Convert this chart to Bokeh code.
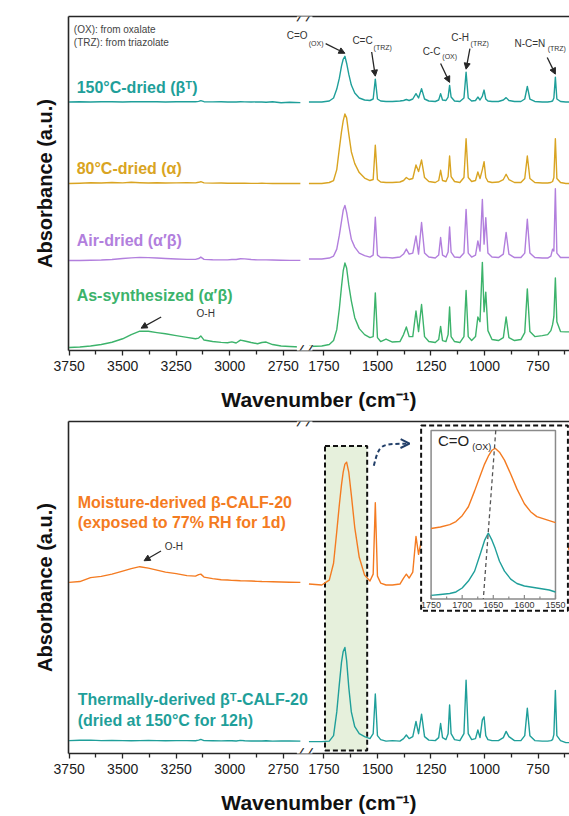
from bokeh.plotting import figure
from bokeh.layouts import column
from bokeh.models import (Range1d, LinearAxis, FixedTicker, Label, Arrow,
                          NormalHead, OpenHead)
from bokeh.core.properties import value
from bokeh.embed import file_html
from bokeh.resources import INLINE

FONT = "Liberation Sans"
INK = "#262626"
TEAL = "#1f9f9a"
GOLD = "#d9a422"
PURPLE = "#b27fdd"
GREEN = "#3cb36b"
ORANGE = "#f47b21"
NAVY = "#223f69"
BOX_FILL = "#e6f0dc"
INSET_GRAY = "#8a8a8a"

# ------------------------------------------------------------------ data
# wavenumber grids (cm-1) of the two axis segments
WN_HIGH = [3750, 3700, 3650, 3600, 3550, 3500, 3460, 3420, 3380, 3340,
           3300, 3250, 3200, 3160, 3145, 3135, 3120, 3080, 3040, 3010,
           2990, 2970, 2950, 2930, 2900, 2870, 2850, 2830, 2800, 2760,
           2720, 2670]
WN_LOW = [1820, 1760, 1725, 1705, 1690, 1678, 1668, 1660, 1652, 1644,
          1634, 1622, 1606, 1585, 1560, 1535, 1520, 1510, 1500, 1485,
          1460, 1430, 1395, 1378, 1365, 1352, 1335, 1320, 1308, 1294,
          1280, 1260, 1230, 1214, 1205, 1196, 1180, 1170, 1163, 1156,
          1140, 1115, 1096, 1086, 1076, 1060, 1042, 1031, 1021, 1010,
          1002, 994, 984, 965, 935, 912, 899, 886, 860, 830,
          812, 800, 788, 765, 730, 705, 690, 682, 676, 669,
          662, 645, 620, 600]

TICKS_HIGH = [3750, 3500, 3250, 3000, 2750]
TICKS_LOW = [1750, 1500, 1250, 1000, 750]
MINOR_HIGH = [3625, 3375, 3125, 2875]
MINOR_LOW = [1625, 1375, 1125, 875, 625]

# panel (a): absorbance above each trace's own baseline (a.u.)
DRY150_HIGH = [0, 0.2, 0, 0.3, 0.2, 0, 0.3, 0.2, 0.4, 0.2,
               0, 0.2, 0.3, 0.2, 0.6, 1.3, 0.3, 0.1, 0.2, 0,
               0.1, 0, 0.2, 0.1, 0, 0.1, 0, -0.3, 0.2, -0.8,
               -0.3, -0.6]
DRY150_LOW = [0, 0, 1, 4, 13, 24, 36, 43, 46, 39,
              28, 17, 9, 4, 2, 1.5, 3, 23, 3, 1,
              0.5, 0.5, 1, 1.5, 2.5, 1.5, 3, 8.4, 4, 13.4,
              3, 1, 0.5, 2, 8.4, 2, 1.5, 5, 16.7, 5,
              1, 0.5, 4, 30, 4, 1, 1.5, 5, 2, 6,
              12, 3, 1, 0.5, 0.5, 2, 4.4, 1.5, 0.5, 0.5,
              3, 15.7, 3, 0.5, 0, 0, 0.5, 1, 4, 25,
              3, 0.5, 0, 0]
DRY80_HIGH = [0, 0.3, 0.8, 0.5, 1.0, 0.6, 1.2, 0.8, 0.5, 0.8,
              0.5, 0.6, 0.8, 0.6, 1.2, 1.8, 0.6, 0.4, 0.5, 0.3,
              0.3, 0.2, 0.4, 0.3, 0.1, 0.1, 0.2, 0.1, 0, 0,
              0, 0]
DRY80_LOW = [0, 0, 1, 3, 14, 35, 52, 63, 70, 66,
             50, 32, 20, 11, 5.5, 3, 4, 38.6, 4, 1.5,
             1, 1, 1.5, 3, 6, 4, 5, 18.6, 12, 23.6,
             6, 2, 1, 3, 13.3, 3, 2, 7, 27.6, 7,
             2, 1, 6, 45, 6, 2, 3, 11.6, 5, 14,
             22, 6, 2, 1, 1.5, 4, 9.3, 4, 1, 1,
             5, 27.6, 5, 1, 0.5, 0.5, 1, 2, 6, 45,
             5, 1, 0, 0]
AIR_HIGH = [-1.5, -1.5, -1.2, -1.0, -0.5, 0.5, 1.2, 1.7, 1.4, 1.0,
            0.5, 0, -0.3, -0.3, 0.5, 2.0, -0.3, -0.7, -0.8, -0.8,
            -0.5, -0.5, 0.3, 0.2, -0.5, -0.8, -0.8, -0.8, -1.0, -1.2,
            -1.3, -1.3]
AIR_LOW = [0, 0, 1, 3, 10, 24, 38, 49, 54, 47,
           34, 20, 12, 6, 3.5, 2, 4, 42, 4, 1.5,
           1.7, 1, 2, 5, 10, 5, 6, 23.3, 5, 36.7,
           6, 2, 1, 4, 21.7, 4, 2, 7, 32.3, 7,
           2, 1.5, 6, 50, 6, 2, 4, 18.3, 8, 60,
           15, 41.7, 6, 2, 1.5, 5, 26.7, 5, 1.5, 1.5,
           6, 40, 6, 1.5, 1, 1, 3, 10, 8, 70.7,
           6, 1.5, 1.5, 1.5]
AS_SYN_HIGH = [-1, -0.5, 0.5, 2, 4.3, 7.8, 12, 15.5, 15.3, 14,
               12.8, 11, 9.2, 7.8, 8.5, 10.7, 6.5, 5, 4.2, 3.8,
               4.7, 3.5, 6.5, 5.5, 4, 2.8, 4, 4.5, 2, 0.5,
               0, -0.5]
AS_SYN_LOW = [0, 0.5, 2, 6, 17, 38, 60, 76, 84, 79,
              62, 46, 29, 18, 12, 9, 10, 54, 9, 5,
              7.5, 4.5, 5, 12, 19.7, 10, 10, 35.7, 15, 42.3,
              10, 5, 4, 7, 20.3, 6, 5, 12, 39.7, 10,
              5, 4, 10, 56.3, 10, 6, 10, 29.7, 25, 84.7,
              35, 54.7, 16, 7, 6, 9, 29.7, 9, 6, 7,
              14, 58, 15, 10, 11, 12, 16, 22, 30, 69,
              25, 15, 14.7, 14.7]
OFFSET_A = {"dry150": 250, "dry80": 168, "air": 92, "as_syn": 4}

# panel (b)
MOIST_HIGH = [1.7, 2.5, 6.5, 7.7, 10, 13, 15.5, 17.5, 16, 14,
              12, 10.5, 8.5, 8, 9.5, 10, 7, 5.5, 4.3, 4,
              3.7, 3.5, 3.3, 3.2, 3, 2.7, 2.5, 2.4, 2.3, 2,
              1.8, 1.7]
MOIST_LOW = [0, -1, 4, 21, 53, 80, 100, 113, 121, 123,
             113, 90, 57, 27, 9, 3, 10, 82, 8, 1,
             -1, -1, 0, 6, 10, 6, 12, 48, 30, 45,
             10, 4, 3, 6, 25, 6, 5, 12, 40, 12,
             5, 4, 12, 70, 12, 6, 6, 20, 10, 35,
             40, 12, 5, 3, 3, 8, 18, 6, 3, 3,
             10, 40, 10, 5, 5, 6, 8, 12, 20, 60,
             30, 28, 30, 40]
THERM_HIGH = [1, 1.3, 1.5, 1, 1.2, 1, 0.8, 1, 1.2, 1,
              0.8, 1, 1, 0.9, 1.5, 2.2, 1, 0.8, 0.7, 0.8,
              0.9, 0.6, 1.2, 0.9, 0.6, 0.7, 0.6, 0.8, 0.5, 0.7,
              0.6, 0.5]
THERM_LOW = [0, 0, 0.5, 6, 30, 58, 80, 91, 95, 82,
             55, 30, 15, 8, 5, 3, 8, 48, 6, 2,
             0.5, 1, 0.5, 3, 6.7, 3, 5, 20.3, 8, 27.7,
             5, 1.5, 1, 4, 18.3, 4, 2, 8, 37, 8,
             2, 1, 8, 62, 8, 2, 3, 11.7, 4, 22,
             25, 6, 2, 1, 1, 4, 10.3, 5, 1, 1,
             6, 33.7, 6, 1, 0.5, 0.5, 1, 2, 7, 51.7,
             6, 1, -1, -1]
OFFSET_B = {"moist": 171, "therm": 12}

# inset (C=O band)
WN_INSET = [1750, 1735, 1720, 1710, 1700, 1690, 1680, 1670, 1664, 1658,
            1652, 1647, 1640, 1632, 1622, 1612, 1600, 1590, 1580, 1570,
            1560, 1550]
INSET_MOIST = [71, 72.5, 75, 78, 84, 93, 109, 126, 136, 144,
               150, 152, 148, 140, 126, 111, 96, 88, 83, 81,
               79, 77]
INSET_THERM = [3.5, 4.5, 5.5, 7, 11, 18, 28, 47, 59, 66.5,
               59, 51, 38, 28, 20, 15.5, 13, 12, 11, 10,
               9, 7]
INSET_TICKS = [1750, 1700, 1650, 1600, 1550]
INSET_MINOR = [1725, 1675, 1625, 1575]
INSET_SHIFT_LINE_WN = [1646, 1666]

for arr in (DRY150_HIGH, DRY80_HIGH, AIR_HIGH, AS_SYN_HIGH, MOIST_HIGH, THERM_HIGH):
    assert len(arr) == len(WN_HIGH), len(arr)
for arr in (DRY150_LOW, DRY80_LOW, AIR_LOW, AS_SYN_LOW, MOIST_LOW, THERM_LOW):
    assert len(arr) == len(WN_LOW), len(arr)
assert len(INSET_MOIST) == len(WN_INSET) == len(INSET_THERM)

# ------------------------------------------------------------------ axis break
GAP_SHIFT = 810          # high-wavenumber segment is shifted next to the low one
X_START, X_END = 2943, 603
BREAK_MID = 1840
BREAK_MARKS = (1861, 1819)
WIDTH = 569


def axis_pos(w):
    return w - GAP_SHIFT if w >= 2000 else w


def at(grid, vals, w):
    return vals[grid.index(w)]


def lab(p, x, y, text, size, color=INK, bold=False, align="left", **kw):
    p.add_layout(Label(x=x, y=y, text=text, text_font=FONT, text_font_size=size,
                       text_font_style="bold" if bold else "normal",
                       text_color=color, text_align=align,
                       text_baseline="middle", **kw))


def make_panel(height, top, bottom, y_end):
    p = figure(width=WIDTH, height=height, x_range=Range1d(X_START, X_END),
               y_range=Range1d(0, y_end), x_axis_type=None, y_axis_type=None,
               output_backend="svg", toolbar_location=None,
               min_border_left=68, min_border_right=0, min_border_top=top,
               min_border_bottom=bottom, background_fill_color="white",
               border_fill_color="white", outline_line_color=None)
    ticks = [axis_pos(t) for t in TICKS_HIGH + TICKS_LOW]
    minor = [axis_pos(t) for t in MINOR_HIGH + MINOR_LOW]
    xa = LinearAxis(ticker=FixedTicker(ticks=ticks, minor_ticks=minor),
                    axis_label="Wavenumber (cm\u207b\u00b9)")
    xa.major_label_overrides = {axis_pos(t): str(t) for t in TICKS_HIGH + TICKS_LOW}
    xa.axis_line_color = INK
    xa.axis_line_width = 1.6
    xa.major_tick_line_color = INK
    xa.minor_tick_line_color = INK
    xa.major_tick_line_width = 1.3
    xa.minor_tick_line_width = 1.3
    xa.major_tick_in = 0
    xa.major_tick_out = 5
    xa.minor_tick_in = 0
    xa.minor_tick_out = 4
    xa.major_label_standoff = 5
    xa.major_label_text_font = FONT
    xa.major_label_text_font_size = "14px"
    xa.major_label_text_color = "#1a1a1a"
    xa.axis_label_standoff = 14
    xa.axis_label_text_font = FONT
    xa.axis_label_text_font_size = "21px"
    xa.axis_label_text_font_style = "bold"
    xa.axis_label_text_color = "#111111"
    p.add_layout(xa, "below")

    top_ax = LinearAxis(ticker=FixedTicker(ticks=[]), major_tick_out=0,
                        minor_tick_out=0, major_label_text_font_size="0px",
                        axis_line_color=INK, axis_line_width=1.6)
    p.add_layout(top_ax, "above")

    ya = LinearAxis(ticker=FixedTicker(ticks=[]), axis_label="Absorbance (a.u.)",
                    major_tick_out=0, minor_tick_out=0,
                    major_label_text_font_size="0px",
                    axis_line_color=INK, axis_line_width=1.6)
    ya.axis_label_standoff = 13
    ya.axis_label_text_font = FONT
    ya.axis_label_text_font_size = "20px"
    ya.axis_label_text_font_style = "bold"
    ya.axis_label_text_color = "#111111"
    p.add_layout(ya, "left")

    for yy in (0, y_end):
        p.add_layout(Label(x=BREAK_MID, y=yy, text="       ", text_font=FONT,
                           text_font_size="8px", text_align="center",
                           text_baseline="middle", background_fill_color="white"))
        for bx in BREAK_MARKS:
            p.add_layout(Label(x=bx, y=yy, text="/", text_font=FONT,
                               text_font_size="16px", text_align="center",
                               text_baseline="middle", text_color=INK, angle=-0.3))
    return p


def draw(p, high, low, off, color):
    p.line([axis_pos(w) for w in WN_HIGH], [off + v for v in high],
           line_color=color, line_width=1.4, line_join="round")
    p.line(WN_LOW, [off + v for v in low],
           line_color=color, line_width=1.4, line_join="round")


def arrow(p, xs, ys, xe, ye, size=6):
    p.add_layout(Arrow(end=NormalHead(size=size, fill_color=INK, line_color=INK,
                                      line_width=1),
                       x_start=xs, y_start=ys, x_end=xe, y_end=ye,
                       line_color=INK, line_width=1.3))


# ------------------------------------------------------------------ panel (a)
pa = make_panel(413, 16, 61, 336)
draw(pa, DRY150_HIGH, DRY150_LOW, OFFSET_A["dry150"], TEAL)
draw(pa, DRY80_HIGH, DRY80_LOW, OFFSET_A["dry80"], GOLD)
draw(pa, AIR_HIGH, AIR_LOW, OFFSET_A["air"], PURPLE)
draw(pa, AS_SYN_HIGH, AS_SYN_LOW, OFFSET_A["as_syn"], GREEN)

lab(pa, 3142, 321, "(a)", "27px", color="#111111", bold=True, align="center")
lab(pa, 2918, 323, "(OX):  from oxalate", "10px", color="#444444")
lab(pa, 2918, 310.3, "(TRZ): from triazolate", "10px", color="#444444")
lab(pa, 2905, 264.5, "150\u00b0C-dried (\u03b2\u1d40)", "16px", color=TEAL, bold=True)
lab(pa, 2905, 183.5, "80\u00b0C-dried (\u03b1)", "16px", color=GOLD, bold=True)
lab(pa, 2905, 110.3, "Air-dried (\u03b1\u2032\u03b2)", "16px", color=PURPLE, bold=True)
lab(pa, 2905, 55.3, "As-synthesized (\u03b1\u2032\u03b2)", "16px", color=GREEN, bold=True)

# peak assignments: text, subscript, text pos, subscript pos, arrow start, peak
PEAK_NOTES = [
    ("C=O", "(OX)", (1924, 317), (1821, 308.7), (1742, 308.7), 1652),
    ("C=C", "(TRZ)", (1617, 312), (1518, 305.3), (1527, 300.3), 1510),
    ("C-C", "(OX)", (1289, 300.3), (1197, 295.3), (1205, 288.7), 1163),
    ("C-H", "(TRZ)", (1155, 315.3), (1065, 308.7), (1068, 303.7), 1086),
    ("N-C=N", "(TRZ)", (860, 308.7), (705, 303.7), (707, 294.7), 669),
]
for txt, sub, tpos, spos, astart, peak in PEAK_NOTES:
    lab(pa, tpos[0], tpos[1], txt, "10px", color="#333333")
    lab(pa, spos[0], spos[1], sub, "7px", color="#333333")
    top = OFFSET_A["dry150"] + at(WN_LOW, DRY150_LOW, peak) + 3
    arrow(pa, astart[0], astart[1], peak, top)

lab(pa, axis_pos(3155), 37, "O-H", "10px", color="#333333")
arrow(pa, axis_pos(3320), 33.7, axis_pos(3414),
      OFFSET_A["as_syn"] + at(WN_HIGH, AS_SYN_HIGH, 3420) + 3)

# ------------------------------------------------------------------ panel (b)
pb = make_panel(403, 8, 61, 335)

# highlighted C=O region
BOX_WN = (1745, 1548)
pb.quad(left=BOX_WN[0], right=BOX_WN[1], bottom=3, top=310.3,
        fill_color=BOX_FILL, line_color="#111111", line_width=2, line_dash="5 3")

draw(pb, MOIST_HIGH, MOIST_LOW, OFFSET_B["moist"], ORANGE)
draw(pb, THERM_HIGH, THERM_LOW, OFFSET_B["therm"], TEAL)

lab(pb, 3142, 319, "(b)", "27px", color="#111111", bold=True, align="center")
lab(pb, 2900, 253, "Moisture-derived \u03b2-CALF-20", "16px", color=ORANGE, bold=True)
lab(pb, 2900, 233, "(exposed to 77% RH for 1d)", "16px", color=ORANGE, bold=True)
lab(pb, 2900, 54.3, "Thermally-derived \u03b2\u1d40-CALF-20", "16px", color=TEAL, bold=True)
lab(pb, 2900, 33, "(dried at 150\u00b0C for 12h)", "16px", color=TEAL, bold=True)
lab(pb, axis_pos(3304), 209.3, "O-H", "10px", color="#333333")
arrow(pb, axis_pos(3321), 204.3, axis_pos(3400),
      OFFSET_B["moist"] + at(WN_HIGH, MOIST_HIGH, 3420) + 6)

# dashed curved pointer to the inset
pb.bezier(x0=1517, y0=290.4, x1=1355, y1=312.6, cx0=1490, cy0=312.5,
          cx1=1490, cy1=312.5, line_color=NAVY, line_width=2, line_dash="4 3")
pb.add_layout(Arrow(end=OpenHead(size=9, line_color=NAVY, line_width=2),
                    x_start=1372, y_start=312.7, x_end=1350, y_end=312.6,
                    line_color=NAVY, line_width=2, line_alpha=0))

# inset placed through extra ranges
INSET_AT_X = (1249.5, 668.5)      # main-axis positions of inset 1750 / 1550
INSET_AT_Y = (156.0, 326.0)       # main y of inset 0 / 170
kx = (INSET_AT_X[0] - INSET_AT_X[1]) / (1750 - 1550)
ky = (INSET_AT_Y[1] - INSET_AT_Y[0]) / 170.0
pb.extra_x_ranges = {"ix": Range1d(1750 + (X_START - INSET_AT_X[0]) / kx,
                                   1750 - (INSET_AT_X[0] - X_END) / kx)}
pb.extra_y_ranges = {"iy": Range1d((0 - INSET_AT_Y[0]) / ky,
                                   (335 - INSET_AT_Y[0]) / ky)}
IR = dict(x_range_name="ix", y_range_name="iy")

pb.quad(left=1766, right=1530, bottom=-12, top=175, fill_color="white",
        line_color="#111111", line_width=2, line_dash="5 3", **IR)
pb.quad(left=1750, right=1550, bottom=0, top=170, fill_color=None,
        line_color=INSET_GRAY, line_width=1.5, **IR)
pb.line(WN_INSET, INSET_MOIST, line_color=ORANGE, line_width=1.4, **IR)
pb.line(WN_INSET, INSET_THERM, line_color=TEAL, line_width=1.4, **IR)
pb.line(INSET_SHIFT_LINE_WN, [170, 0], line_color="#555555", line_width=1.3,
        line_dash="4 3", **IR)
pb.segment(x0=INSET_TICKS, y0=[0] * len(INSET_TICKS), x1=INSET_TICKS,
           y1=[4] * len(INSET_TICKS), line_color=INSET_GRAY, line_width=1.2, **IR)
pb.segment(x0=INSET_MINOR, y0=[0] * len(INSET_MINOR), x1=INSET_MINOR,
           y1=[2.5] * len(INSET_MINOR), line_color=INSET_GRAY, line_width=1.2, **IR)
pb.text(x=INSET_TICKS, y=[-6.5] * len(INSET_TICKS), text=[str(t) for t in INSET_TICKS],
        text_font=value(FONT), text_font_size=value("9px"), text_color="#333333",
        text_align="center", text_baseline="middle", **IR)
lab(pb, 1739, 160, "C=O", "15px", color="#222222", **IR)
lab(pb, 1684, 153, "(OX)", "9px", color="#222222", **IR)

layout = column(pa, pb)
open("out.html", "w").write(file_html(layout, INLINE))
